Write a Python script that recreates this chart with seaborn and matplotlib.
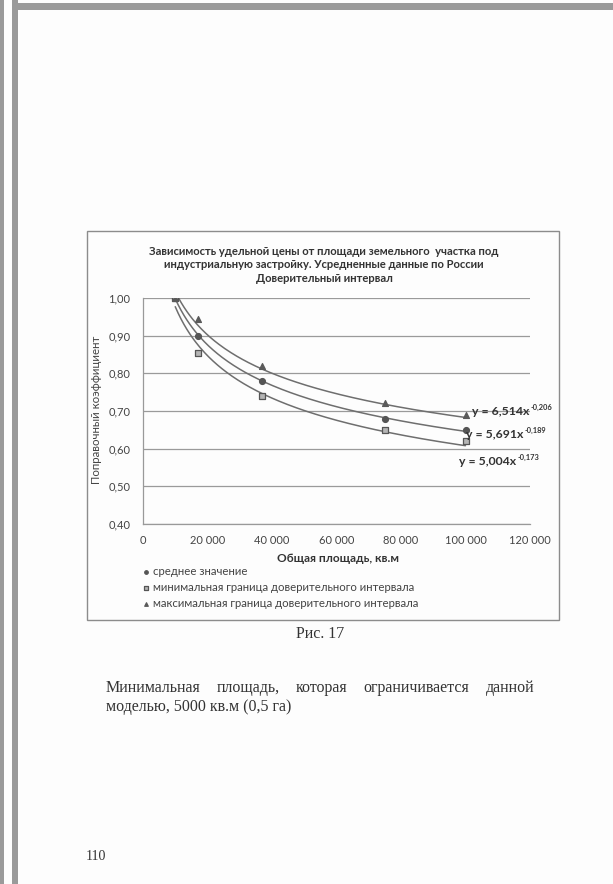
"""
Рис. 17: зависимость удельной цены от площади земельного участка
(страница отчёта, воспроизведённая целиком).
"""

import numpy as np
import pandas as pd
import matplotlib
matplotlib.use("Agg")
import matplotlib.pyplot as plt
from matplotlib.patches import Rectangle
from matplotlib.transforms import offset_copy
import seaborn as sns

# --- data ---
area = [10000, 17000, 37000, 75000, 100000]
mean_vals = [1.00, 0.90, 0.78, 0.68, 0.65]
min_vals = [1.00, 0.855, 0.74, 0.65, 0.62]
max_vals = [1.00, 0.945, 0.82, 0.72, 0.69]

series_names = [
    "среднее значение",
    "минимальная граница доверительного интервала",
    "максимальная граница доверительного интервала",
]
# power trendlines y = a * x^b (mean, min, max)
trend_a = [5.691, 6.514, 5.004]
trend_b = [-0.189, -0.206, -0.173]

eq_texts = ["y = 6,514x", "y = 5,691x", "y = 5,004x"]
eq_powers = ["-0,206", "-0,189", "-0,173"]

x_ticks = [0, 20000, 40000, 60000, 80000, 100000, 120000]
y_ticks = [0.40, 0.50, 0.60, 0.70, 0.80, 0.90, 1.00]

title = ("Зависимость удельной цены от площади земельного  участка под\n"
         "индустриальную застройку. Усредненные данные по России\n"
         "Доверительный интервал")
x_label = "Общая площадь, кв.м"
y_label = "Поправочный коэффициент"
caption = "Рис. 17"
body_line1 = "Минимальная площадь, которая ограничивается данной"
body_line2 = "моделью, 5000 кв.м (0,5 га)"
page_number = "110"

# --- page setup ---
W, H = 613, 884
sns.set_theme(style="white")
plt.rcParams["font.family"] = ["Lato", "DejaVu Sans"]

fig = plt.figure(figsize=(W / 100, H / 100), dpi=100)
fig.patch.set_facecolor("#fdfdfd")
renderer = fig.canvas.get_renderer()


def fx(px):
    return px / W


def fy(py):
    return 1 - py / H


# scanned page edges
for x0, x1 in [(0, 4), (12, 18)]:
    fig.add_artist(Rectangle((fx(x0), 0), fx(x1) - fx(x0), 1,
                             transform=fig.transFigure, color="#9a9a9a", lw=0))
fig.add_artist(Rectangle((fx(12), fy(10)), 1, fy(3) - fy(10),
                         transform=fig.transFigure, color="#9a9a9a", lw=0))

# chart frame
fig.add_artist(Rectangle((fx(87), fy(620)), fx(559) - fx(87), fy(231) - fy(620),
                         transform=fig.transFigure, fill=False,
                         edgecolor="#8c8c8c", lw=1.0))

ax = fig.add_axes([fx(143), fy(524), fx(530) - fx(143), fy(298) - fy(524)])
ax.set_facecolor("none")

# trendlines
x_fit = np.linspace(area[0], area[-1], 200)
for a, b in zip(trend_a, trend_b):
    sns.lineplot(x=x_fit, y=a * x_fit ** b, color="#6e6e6e", lw=1.1, ax=ax)

# points
points = pd.DataFrame({
    "area": area * 3,
    "value": mean_vals + min_vals + max_vals,
    "series": [s for s in series_names for _ in area],
})
styles = {
    series_names[0]: dict(marker="o", color="#555555", edgecolor="#555555"),
    series_names[1]: dict(marker="s", color="#b5b5b5", edgecolor="#555555"),
    series_names[2]: dict(marker="^", color="#5a5a5a", edgecolor="#5a5a5a"),
}
for name in series_names:
    sub = points[points["series"] == name]
    sns.scatterplot(data=sub, x="area", y="value", s=18, linewidth=0.9,
                    label=name, zorder=3, ax=ax, **styles[name])

ax.set_xlim(0, 120000)
ax.set_ylim(0.40, 1.00)
ax.set_xticks(x_ticks)
ax.set_yticks(y_ticks)
ax.set_xticklabels([f"{v:,}".replace(",", " ") for v in x_ticks])
ax.set_yticklabels([f"{v:.2f}".replace(".", ",") for v in y_ticks])
ax.tick_params(axis="both", labelsize=8, colors="#444444", length=3,
               width=0.8, direction="out", pad=6)
ax.tick_params(axis="x", pad=5, color="#aaaaaa")
ax.tick_params(axis="y", color="#888888")
ax.grid(axis="y", color="#9a9a9a", lw=0.9)
ax.grid(axis="x", visible=False)
for side in ["top", "right"]:
    ax.spines[side].set_visible(False)
for side in ["left", "bottom"]:
    ax.spines[side].set_color("#999999")
    ax.spines[side].set_linewidth(0.9)
ax.set_xlabel("")
ax.set_ylabel("")

# trendline equations: base text plus a small raised exponent
eq_pos = [(102000, 0.698), (100150, 0.637), (98000, 0.565)]
for (x, y), base, pw in zip(eq_pos, eq_texts, eq_powers):
    t = ax.text(x, y, base, fontsize=8.8, fontweight="bold", color="#333333",
                va="center", ha="left", clip_on=False)
    w = t.get_window_extent(renderer).width
    ax.text(x, y, pw, fontsize=5.4, fontweight="bold", color="#333333",
            va="bottom", ha="left", clip_on=False,
            transform=offset_copy(ax.transData, fig=fig, x=w + 1, y=1,
                                  units="dots"))

# legend below the x label
handles, labels = ax.get_legend_handles_labels()
ax.legend(handles, labels, loc="upper left",
          bbox_to_anchor=(fx(139), fy(561)), bbox_transform=fig.transFigure,
          frameon=False, fontsize=8.2, labelcolor="#444444",
          handlelength=0.5, handletextpad=0.3, labelspacing=0.45,
          markerscale=0.6, borderaxespad=0)

# chart texts
fig.text(fx(324), fy(265), title, ha="center", va="center", fontsize=8.1,
         fontweight="bold", color="#333333", linespacing=1.3)
fig.text(fx(338), fy(558), x_label, ha="center", va="center", fontsize=8.6,
         fontweight="bold", color="#333333")
fig.text(fx(97), fy(410), y_label, ha="center", va="center", fontsize=8.3,
         rotation=90, color="#444444")

# page texts
serif = ["Liberation Serif", "DejaVu Serif"]
fig.text(fx(320), fy(634), caption, ha="center", va="center", fontsize=11.5,
         family=serif, color="#333333")

words = body_line1.split()
left, right = 106, 534
word_objs = [fig.text(0, fy(688), w, ha="left", va="center", fontsize=11.5,
                      family=serif, color="#333333") for w in words]
widths = [t.get_window_extent(renderer).width for t in word_objs]
gap = (right - left - sum(widths)) / (len(words) - 1)
pos = left
for t, w in zip(word_objs, widths):
    t.set_x(fx(pos))
    pos += w + gap
fig.text(fx(left), fy(707), body_line2, ha="left", va="center", fontsize=11.5,
         family=serif, color="#333333")
fig.text(fx(86), fy(856), page_number, ha="left", va="center", fontsize=10,
         family=serif, color="#333333")

fig.savefig("out.png", dpi=100, facecolor=fig.get_facecolor())
